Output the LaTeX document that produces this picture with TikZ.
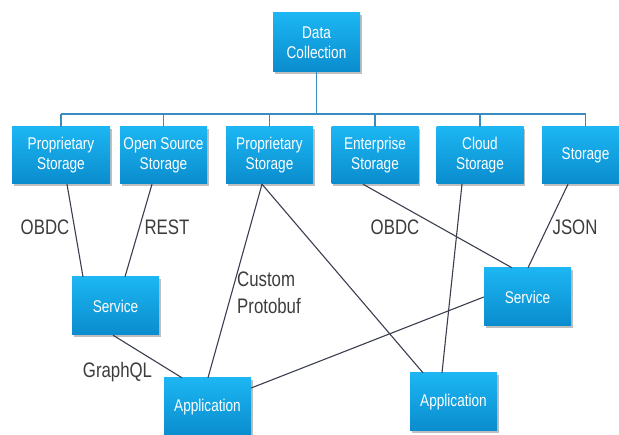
\documentclass[tikz,border=0pt]{standalone}
\usepackage{fontspec}
\setmainfont{Liberation Sans}[FakeStretch=0.8]
\usetikzlibrary{shadows,calc}
\definecolor{boxtop}{RGB}{28,182,242}
\definecolor{boxbot}{RGB}{10,140,206}
\definecolor{busline}{RGB}{58,140,190}
\definecolor{wire}{RGB}{58,62,78}
\definecolor{labeltext}{RGB}{60,60,60}
\tikzset{
  box/.style={rectangle, top color=boxtop, bottom color=boxbot, draw=none,
    text=white, align=center, minimum width=87pt, minimum height=57pt,
    inner sep=1pt, font=\fontsize{17}{20}\selectfont,
    drop shadow={shadow xshift=1.5pt, shadow yshift=-2pt, opacity=0.25, fill=black}},
  bus/.style={draw=busline, line width=1.4pt},
  wireline/.style={draw=wire, line width=1.1pt},
  protolabel/.style={text=labeltext, font=\fontsize{21}{27}\selectfont, inner sep=0pt}
}
\begin{document}
\begin{tikzpicture}[x=1pt, y=-1pt]
\useasboundingbox (0,0) rectangle (619,435);

% top source
\node[box, minimum height=59pt] (dc) at (316.5,42.5) {Data\\Collection};

% storage row
\node[box, minimum width=98pt] (s1) at (61,155.5) {Proprietary\\Storage};
\node[box] (s2) at (163.5,155.5) {Open Source\\Storage};
\node[box] (s3) at (269.5,155.5) {Proprietary\\Storage};
\node[box] (s4) at (375,155.5) {Enterprise\\Storage};
\node[box] (s5) at (480,155.5) {Cloud\\Storage};
\node[box] (s6) at (585.5,155.5) {Storage};

% services and applications
\node[box, minimum height=58pt] (svL) at (115.5,306) {Service};
\node[box, minimum height=58pt] (svR) at (527.5,297) {Service};
\node[box, minimum height=58pt] (appL) at (207.5,407) {Application};
\node[box, minimum height=58pt] (appR) at (453.5,402) {Application};

% distribution bus
\coordinate (busL) at (s1.north |- 0,114);
\coordinate (busR) at (s6.north |- 0,114);
\draw[bus] (dc.south) -- (dc.south |- busL);
\draw[bus] (busL) -- (busR);
\foreach \n in {s1,s2,s3,s4,s5,s6}
  \draw[bus] (\n.north |- busL) -- (\n.north);

% protocol connections
\draw[wireline] ([xshift=6pt]s1.south) -- ([xshift=-32.5pt]svL.north);
\draw[wireline] ([xshift=-11.5pt]s2.south) -- ([xshift=9.5pt]svL.north);
\draw[wireline] ([xshift=-2.5pt]svL.south) -- ([xshift=-25.5pt]appL.north);
\draw[wireline] ([xshift=-7.5pt]s3.south) -- ([xshift=0.5pt]appL.north);
\draw[wireline] ([xshift=-7.5pt]s3.south) -- ([xshift=-30.5pt]appR.north);
\draw[wireline] ([xshift=-12pt]s4.south) -- ([xshift=-15.5pt]svR.north);
\draw[wireline] ([xshift=-18pt]s5.south) -- ([xshift=-11.5pt]appR.north);
\draw[wireline] ([xshift=-17.5pt]s6.south) -- ([xshift=0.5pt]svR.north);
\draw[wireline] (svR.west) -- ([yshift=19pt]appL.east);

% labels
\node[protolabel] (lObdcA) at (45,227) {OBDC};
\node[protolabel] (lRest) at (167,227) {REST};
\node[protolabel, anchor=west, align=left] (lCustom) at (237,293) {Custom\\Protobuf};
\node[protolabel] (lGraph) at (117.5,372) {GraphQL};
\node[protolabel] (lObdcB) at (395,227) {OBDC};
\node[protolabel] (lJson) at (575,227) {JSON};
\end{tikzpicture}
\end{document}
